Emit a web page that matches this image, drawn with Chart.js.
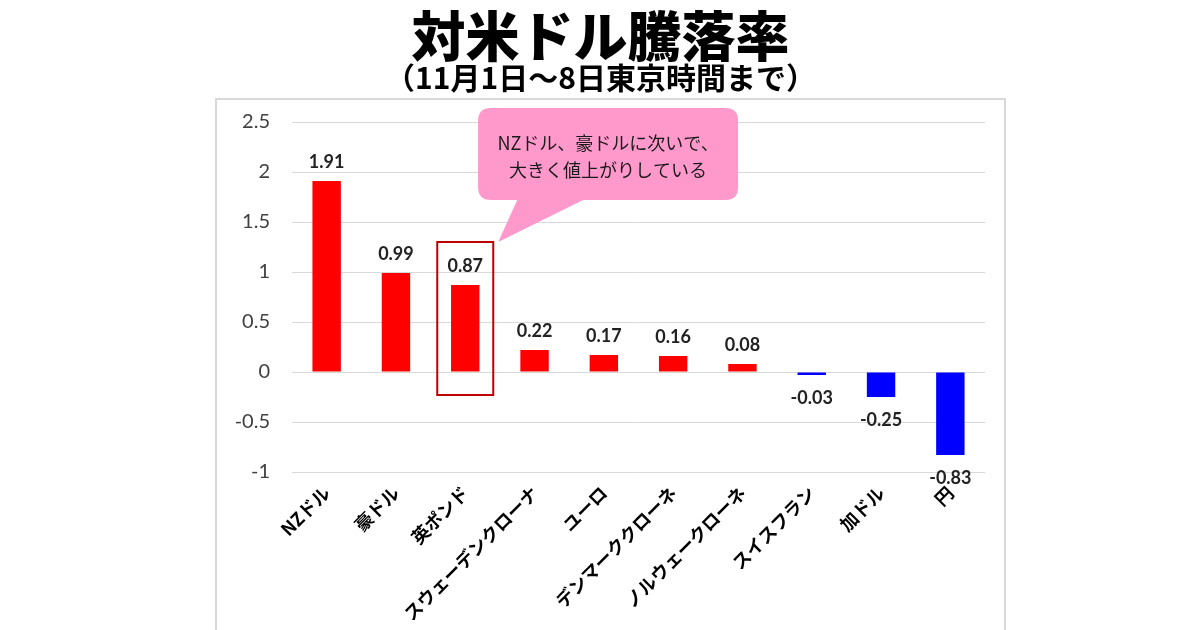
<!DOCTYPE html>
<html>
<head>
<meta charset="utf-8">
<script src="https://cdn.jsdelivr.net/npm/chart.js@4.4.1/dist/chart.umd.min.js"></script>
<style>
html,body{margin:0;padding:0;background:#fff;}
#wrap{width:1200px;height:630px;position:relative;}
</style>
</head>
<body>
<div id="wrap"><canvas id="c" width="1200" height="630"></canvas></div>
<script>
const categories = ["NZドル","豪ドル","英ポンド","スウェーデンクローナ","ユーロ","デンマーククローネ","ノルウェークローネ","スイスフラン","加ドル","円"];
const changes = [1.91, 0.99, 0.87, 0.22, 0.17, 0.16, 0.08, -0.03, -0.25, -0.83];
const yTicks = [2.5, 2, 1.5, 1, 0.5, 0, -0.5, -1];
const titleText = "対米ドル騰落率";
const subtitleText = "（11月1日～8日東京時間まで）";
const calloutLines = ["NZドル、豪ドルに次いで、", "大きく値上がりしている"];
const highlightIndex = 2;

const barColors = changes.map(v => v >= 0 ? "#FF0000" : "#0000FF");

const framePlugin = {
  id: "frame",
  beforeDraw(chart) {
    const ctx = chart.ctx;
    ctx.save();
    ctx.fillStyle = "#fff";
    ctx.fillRect(0, 0, chart.width, chart.height);
    ctx.strokeStyle = "#D9D9D9";
    ctx.lineWidth = 2;
    ctx.strokeRect(216, 99, 789, 600);
    ctx.restore();
  }
};

const valueLabelPlugin = {
  id: "valueLabels",
  afterDatasetsDraw(chart) {
    const ctx = chart.ctx;
    const meta = chart.getDatasetMeta(0);
    ctx.save();
    ctx.font = "bold 18px Lato, 'Noto Sans', sans-serif";
    ctx.fillStyle = "#222";
    ctx.textAlign = "center";
    ctx.textBaseline = "middle";
    meta.data.forEach((bar, i) => {
      const v = changes[i];
      const y = v >= 0 ? bar.y - 19 : bar.y + 23;
      ctx.fillText(v.toFixed(2), bar.x, y);
    });
    ctx.restore();
  }
};

const calloutPlugin = {
  id: "callout",
  afterDraw(chart) {
    const ctx = chart.ctx;
    const xs = chart.scales.x, ys = chart.scales.y;
    const cx = xs.getPixelForValue(highlightIndex);
    const bx0 = cx - 28, bx1 = cx + 28;
    const by0 = ys.getPixelForValue(1.3), by1 = ys.getPixelForValue(-0.23);
    const L = xs.getPixelForValue(2.185), R = xs.getPixelForValue(5.937);
    const T = ys.getPixelForValue(2.64), B = ys.getPixelForValue(1.72);
    const t0 = xs.getPixelForValue(2.75), t1 = xs.getPixelForValue(3.70);
    const tipX = bx1 + 5, tipY = by0;
    const r = 13;
    ctx.save();
    ctx.fillStyle = "#FF99CC";
    ctx.beginPath();
    ctx.moveTo(L + r, T);
    ctx.lineTo(R - r, T);
    ctx.quadraticCurveTo(R, T, R, T + r);
    ctx.lineTo(R, B - r);
    ctx.quadraticCurveTo(R, B, R - r, B);
    ctx.lineTo(t1, B);
    ctx.lineTo(tipX, tipY);
    ctx.lineTo(t0, B);
    ctx.lineTo(L + r, B);
    ctx.quadraticCurveTo(L, B, L, B - r);
    ctx.lineTo(L, T + r);
    ctx.quadraticCurveTo(L, T, L + r, T);
    ctx.closePath();
    ctx.fill();
    ctx.fillStyle = "#1a1a1a";
    ctx.font = "18px 'Noto Sans CJK JP', sans-serif";
    ctx.textAlign = "center";
    ctx.textBaseline = "middle";
    const mx = (L + R) / 2;
    ctx.fillText(calloutLines[0], mx, T + 35);
    ctx.fillText(calloutLines[1], mx, T + 62);
    ctx.strokeStyle = "#C00000";
    ctx.lineWidth = 2;
    ctx.strokeRect(bx0, by0, bx1 - bx0, by1 - by0);
    ctx.restore();
  }
};

new Chart(document.getElementById("c"), {
  type: "bar",
  data: {
    labels: categories,
    datasets: [{
      data: changes,
      backgroundColor: barColors,
      borderWidth: 0,
      categoryPercentage: 1,
      barPercentage: 0.41
    }]
  },
  options: {
    responsive: false,
    animation: false,
    layout: { padding: { left: 216, right: 215, top: 0, bottom: 0 } },
    plugins: {
      legend: { display: false },
      tooltip: { enabled: false },
      title: {
        display: true,
        text: titleText,
        color: "#000",
        font: { family: "'Noto Sans CJK JP', sans-serif", size: 54, weight: 900, lineHeight: 1 },
        padding: { top: 9, bottom: 0 }
      },
      subtitle: {
        display: true,
        text: subtitleText,
        color: "#000",
        font: { family: "'Noto Sans CJK JP', sans-serif", size: 30, weight: "bold", lineHeight: 1 },
        padding: { top: 0, bottom: 29 }
      }
    },
    scales: {
      x: {
        grid: { display: false, drawTicks: false },
        border: { display: false },
        ticks: {
          autoSkip: false,
          maxRotation: 45,
          minRotation: 45,
          padding: 10,
          color: "#000",
          font: { family: "'Noto Sans CJK JP', sans-serif", size: 18, weight: "bold" }
        },
        afterFit(scale) { scale.height = 158; }
      },
      y: {
        min: -1,
        max: 2.5,
        afterBuildTicks(scale) { scale.ticks = yTicks.map(v => ({ value: v })); },
        grid: { color: "#D9D9D9", lineWidth: 1, drawTicks: false },
        border: { display: false },
        ticks: {
          padding: 22,
          color: "#404040",
          font: { family: "Lato, 'Noto Sans', sans-serif", size: 20 },
          callback: v => String(v)
        },
        afterFit(scale) { scale.width = 76; }
      }
    }
  },
  plugins: [framePlugin, valueLabelPlugin, calloutPlugin]
});
</script>
</body>
</html>
